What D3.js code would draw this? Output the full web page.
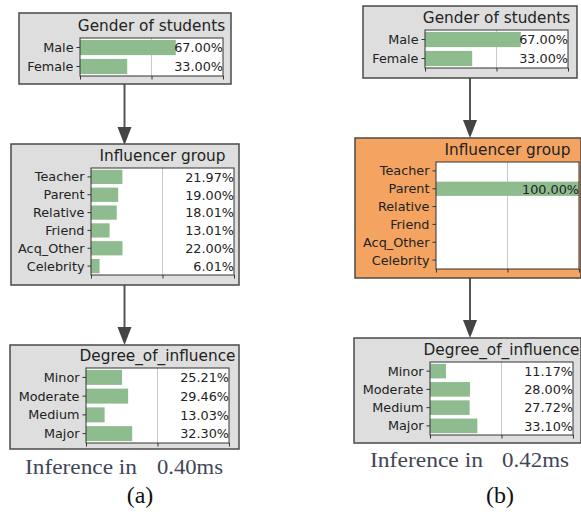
<!DOCTYPE html>
<html><head><meta charset="utf-8">
<script src="https://cdn.jsdelivr.net/npm/d3@7"></script>
<style>
html,body{margin:0;padding:0;background:#fff;}
svg{display:block;}
</style></head>
<body>
<svg id="chart" width="581" height="512"></svg>
<script>
// ---------- data ----------
const genderCats = ["Male", "Female"];
const genderA = [0.67, 0.33];
const genderB = [0.67, 0.33];

const influencerCats = ["Teacher", "Parent", "Relative", "Friend", "Acq_Other", "Celebrity"];
const influencerA = [0.2197, 0.19, 0.1801, 0.1301, 0.22, 0.0601];
const influencerB = [0, 1.0, 0, 0, 0, 0];

const degreeCats = ["Minor", "Moderate", "Medium", "Major"];
const degreeA = [0.2521, 0.2946, 0.1303, 0.3230];
const degreeB = [0.1117, 0.28, 0.2772, 0.3310];

const xTicks = [0, 0.5, 1];
const titles = ["Gender of students", "Influencer group", "Degree_of_influence"];
const inferenceTimes = ["0.40ms", "0.42ms"];
const panelLabels = ["(a)", "(b)"];

// ---------- layout ----------
const svg = d3.select("#chart");
const GRAY = "#dedede", ORANGE = "#F4A460", BAR = "#8FBC8F";
const fmt = d3.format(".2%");
const LABEL_SIZE = 12.8;

const panels = [
  {box: [19, 13, 231, 84], plot: [80, 38, 223, 76], cats: genderCats, vals: genderA, title: titles[0], fill: GRAY},
  {box: [11, 144, 239, 285], plot: [91, 168, 234, 275], cats: influencerCats, vals: influencerA, title: titles[1], fill: GRAY},
  {box: [10, 345, 239, 449], plot: [86, 368, 229, 443], cats: degreeCats, vals: degreeA, title: titles[2], fill: GRAY},
  {box: [363, 6, 577, 78], plot: [425, 30, 568, 68], cats: genderCats, vals: genderB, title: titles[0], fill: GRAY},
  {box: [355, 138, 581, 278], plot: [436, 162, 579, 269], cats: influencerCats, vals: influencerB, title: titles[1], fill: ORANGE},
  {box: [354, 338, 581, 443], plot: [430, 362, 573, 435], cats: degreeCats, vals: degreeB, title: titles[2], fill: GRAY}
];

const arrows = [
  {x: 124.5, y0: 84, y1: 145},
  {x: 124.5, y0: 285, y1: 345},
  {x: 470, y0: 78, y1: 138},
  {x: 470, y0: 278, y1: 338}
];

// arrows
arrows.forEach(a => {
  const g = svg.append("g");
  g.append("line").attr("x1", a.x).attr("x2", a.x).attr("y1", a.y0).attr("y2", a.y1 - 14)
    .attr("stroke", "#555").attr("stroke-width", 2);
  g.append("path")
    .attr("d", `M${a.x - 7},${a.y1 - 18} L${a.x + 7},${a.y1 - 18} L${a.x},${a.y1} Z`)
    .attr("fill", "#444");
});

function drawPanel(p) {
  const [bx0, by0, bx1, by1] = p.box;
  const [px0, py0, px1, py1] = p.plot;
  const g = svg.append("g");
  g.append("rect").attr("x", bx0).attr("y", by0).attr("width", bx1 - bx0).attr("height", by1 - by0)
    .attr("fill", p.fill).attr("stroke", "#4a4a4a").attr("stroke-width", 1.5);

  const x = d3.scaleLinear().domain([0, 1]).range([px0, px1]);
  const y = d3.scaleBand().domain(p.cats).range([py0, py1]).paddingInner(0.2).paddingOuter(0.1);

  g.append("rect").attr("x", px0).attr("y", py0).attr("width", px1 - px0).attr("height", py1 - py0)
    .attr("fill", "#fff");
  g.append("line").attr("x1", x(0.5)).attr("x2", x(0.5)).attr("y1", py0).attr("y2", py1)
    .attr("stroke", "#c8c8c8").attr("stroke-width", 1);

  const rows = p.cats.map((c, i) => ({c, v: p.vals[i]}));
  g.selectAll("rect.bar").data(rows)
    .enter().append("rect").attr("class", "bar")
    .attr("x", x(0)).attr("y", d => y(d.c))
    .attr("width", d => x(d.v) - x(0)).attr("height", y.bandwidth())
    .attr("fill", BAR);

  g.append("rect").attr("x", px0).attr("y", py0).attr("width", px1 - px0).attr("height", py1 - py0)
    .attr("fill", "none").attr("stroke", "#333").attr("stroke-width", 1);

  const xa = d3.axisBottom(x).tickValues(xTicks).tickSize(3.5).tickFormat("");
  const gx = g.append("g").attr("transform", `translate(0,${py1})`).call(xa);
  gx.select(".domain").remove();
  gx.selectAll(".tick line").attr("stroke", "#333");

  const ya = d3.axisLeft(y).tickSize(3.5).tickPadding(3);
  const gy = g.append("g").attr("transform", `translate(${px0},0)`).call(ya);
  gy.select(".domain").remove();
  gy.selectAll(".tick line").attr("stroke", "#333");
  gy.selectAll(".tick text").attr("font-family", "DejaVu Sans").attr("font-size", LABEL_SIZE)
    .attr("fill", "#222").attr("dy", "0.35em");

  g.selectAll("text.val").data(rows.filter(d => d.v > 0))
    .enter().append("text").attr("class", "val")
    .attr("x", px1).attr("y", d => y(d.c) + y.bandwidth() / 2).attr("dy", "0.38em")
    .attr("text-anchor", "end").attr("font-family", "DejaVu Sans").attr("font-size", LABEL_SIZE)
    .attr("fill", "#222").text(d => fmt(d.v));

  g.append("text").attr("x", (px0 + px1) / 2).attr("y", py0 - 7)
    .attr("text-anchor", "middle").attr("font-family", "DejaVu Sans").attr("font-size", 15.3)
    .attr("fill", "#222").text(p.title);
}
panels.forEach(drawPanel);

// captions
const captions = [
  {x0: 25, x1: 137, x2: 157, x3: 223, y: 474, lx: 140, ly: 503},
  {x0: 370, x1: 483, x2: 502, x3: 569, y: 467, lx: 500, ly: 503}
];
captions.forEach((c, i) => {
  svg.append("text").attr("x", c.x0).attr("y", c.y)
    .attr("font-family", "Liberation Serif").attr("font-size", 21.5).attr("fill", "#3f4656")
    .attr("textLength", c.x1 - c.x0).attr("lengthAdjust", "spacingAndGlyphs")
    .text("Inference in");
  svg.append("text").attr("x", c.x2).attr("y", c.y)
    .attr("font-family", "Liberation Serif").attr("font-size", 21.5).attr("fill", "#3f4656")
    .attr("textLength", c.x3 - c.x2).attr("lengthAdjust", "spacingAndGlyphs")
    .text(inferenceTimes[i]);
  svg.append("text").attr("x", c.lx).attr("y", c.ly).attr("text-anchor", "middle")
    .attr("font-family", "Liberation Serif").attr("font-size", 24).attr("fill", "#111")
    .text(panelLabels[i]);
});
</script>
</body></html>
